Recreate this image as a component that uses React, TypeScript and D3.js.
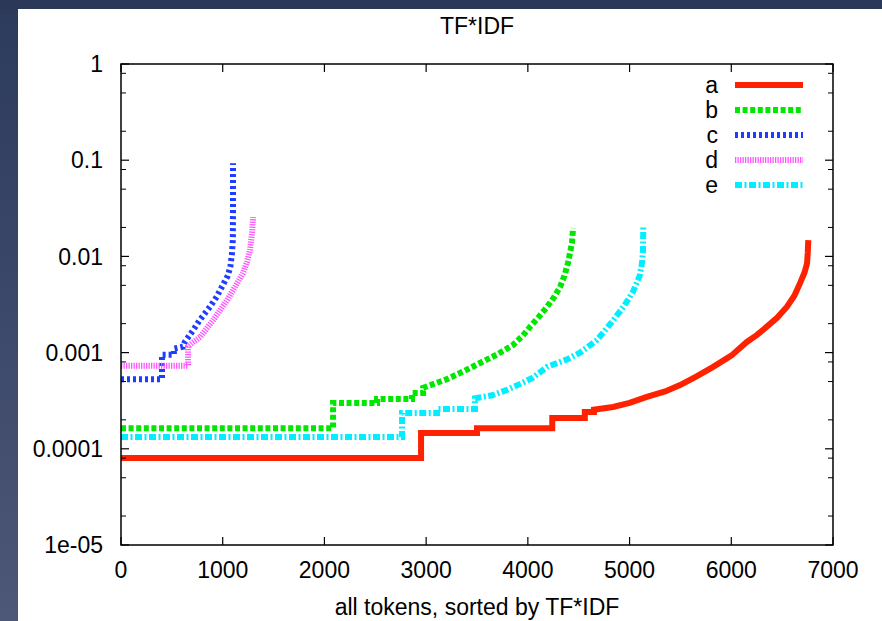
import React from "react";
import * as d3 from "d3";

// ---- data (rank, TF*IDF value) ----
const seriesNames = ["a", "b", "c", "d", "e"];

const aX = [0, 2950, 2950, 3500, 3500, 4240, 4240, 4560, 4560, 4650, 4650, 4837, 5000, 5170, 5350, 5496, 5650, 5822, 6000, 6153, 6250, 6347, 6450, 6546, 6620, 6677, 6720, 6745, 6752, 6757];
const aY = [8e-5, 8e-5, 1.46e-4, 1.46e-4, 1.64e-4, 1.64e-4, 2.09e-4, 2.09e-4, 2.41e-4, 2.41e-4, 2.55e-4, 2.72e-4, 3.0e-4, 3.46e-4, 3.95e-4, 4.6e-4, 5.6e-4, 7.1e-4, 9.3e-4, 1.29e-3, 1.52e-3, 1.85e-3, 2.3e-3, 2.98e-3, 3.9e-3, 5.3e-3, 6.8e-3, 8.5e-3, 0.011, 0.0148];

const bX = [0, 2085, 2085, 2517, 2517, 2861, 2861, 2970, 2970, 3205, 3370, 3530, 3700, 3854, 3950, 4021, 4100, 4188, 4260, 4316, 4360, 4395, 4434, 4444];
const bY = [1.64e-4, 1.64e-4, 3.0e-4, 3.0e-4, 3.3e-4, 3.3e-4, 3.8e-4, 3.8e-4, 4.3e-4, 5.3e-4, 6.4e-4, 7.8e-4, 9.6e-4, 1.2e-3, 1.5e-3, 1.85e-3, 2.3e-3, 2.98e-3, 3.8e-3, 4.8e-3, 6.3e-3, 8.6e-3, 0.0138, 0.0197];

const cX = [0, 403, 403, 520, 520, 609, 629, 708, 777, 875, 940, 1000, 1050, 1075, 1090, 1100, 1101, 1101];
const cY = [5.3e-4, 5.3e-4, 9.5e-4, 9.5e-4, 1.1e-3, 1.15e-3, 1.3e-3, 1.7e-3, 2.2e-3, 3.0e-3, 3.8e-3, 5.0e-3, 6.3e-3, 7.8e-3, 0.0105, 0.015, 0.03, 0.093];

const dX = [0, 659, 659, 700, 777, 910, 1042, 1130, 1200, 1240, 1268, 1290, 1298];
const dY = [7.3e-4, 7.3e-4, 1.15e-3, 1.26e-3, 1.45e-3, 2.2e-3, 3.5e-3, 5.0e-3, 6.7e-3, 8.8e-3, 0.0117, 0.018, 0.0256];

const eX = [0, 2763, 2763, 3107, 3107, 3480, 3480, 3650, 3795, 3920, 4050, 4188, 4385, 4513, 4680, 4837, 4950, 5034, 5100, 5122, 5132, 5135];
const eY = [1.33e-4, 1.33e-4, 2.35e-4, 2.35e-4, 2.6e-4, 2.6e-4, 3.35e-4, 3.6e-4, 4.1e-4, 4.7e-4, 5.5e-4, 7.1e-4, 8.5e-4, 1.0e-3, 1.35e-3, 2.15e-3, 3.1e-3, 4.3e-3, 6.3e-3, 8.5e-3, 0.0115, 0.021];

const xTicks = [0, 1000, 2000, 3000, 4000, 5000, 6000, 7000];
const yTicks = [1, 0.1, 0.01, 0.001, 0.0001, 1e-5];
const yTickLabels = ["1", "0.1", "0.01", "0.001", "0.0001", "1e-05"];
const yMinorFactors = [2, 5, 8];

const titleText = "TF*IDF";
const xLabelText = "all tokens, sorted by TF*IDF";

const colors = ["#ff2200", "#00e800", "#1f3dff", "#ff55ff", "#00eeff"];
const dashes = ["none", "5 2.6", "3 3", "1.3 1.2", "7 2.5 2 2.5"];
const widths = [6, 6, 6, 6, 6];

const W = 882;
const H = 621;
const FONT = "'Liberation Sans', Arial, Helvetica, sans-serif";

export default function App() {
  const x = d3.scaleLinear().domain([0, 7000]).range([121, 833]);
  const y = d3.scaleLog().domain([1e-5, 1]).range([545, 64]);
  const [x0, x1] = x.range();
  const [y0, y1] = y.range();

  const all = [
    [aX, aY],
    [bX, bY],
    [cX, cY],
    [dX, dY],
    [eX, eY],
  ];
  const line = d3
    .line<[number, number]>()
    .x((p) => x(p[0]))
    .y((p) => y(p[1]));

  const minor: number[] = [];
  for (let k = -5; k < 0; k++) {
    yMinorFactors.forEach((f) => minor.push(f * Math.pow(10, k)));
  }

  const legX0 = 735;
  const legX1 = 803;
  const legY0 = 85;
  const legStep = 25;

  return (
    <svg width={W} height={H} style={{ position: "absolute", left: 0, top: 0 }}>
      <defs>
        <linearGradient id="bg" x1="0" y1="0" x2="0" y2="1">
          <stop offset="0" stopColor="#2c3a5b" />
          <stop offset="1" stopColor="#4d5778" />
        </linearGradient>
      </defs>
      <rect x={0} y={0} width={W} height={H} fill="url(#bg)" />
      <rect x={0} y={0} width={W} height={9} fill="#2b3858" />
      <rect x={18} y={9} width={W - 18} height={H - 9} fill="#ffffff" />

      {/* curves */}
      {all.map(([xs, ys], i) => {
        const pts = xs.map((v, j) => [v, ys[j]] as [number, number]);
        return (
          <path
            key={i}
            d={line(pts) || ""}
            fill="none"
            stroke={colors[i]}
            strokeWidth={widths[i]}
            strokeDasharray={dashes[i]}
            strokeLinejoin="miter"
          />
        );
      })}

      {/* frame */}
      <rect x={x0} y={y1} width={x1 - x0} height={y0 - y1} fill="none" stroke="#000" strokeWidth={1.5} />

      {/* x ticks */}
      {xTicks.map((t) => (
        <g key={"xt" + t}>
          <line x1={x(t)} x2={x(t)} y1={y0} y2={y0 - 8} stroke="#000" strokeWidth={1.2} />
          <line x1={x(t)} x2={x(t)} y1={y1} y2={y1 + 8} stroke="#000" strokeWidth={1.2} />
          <text x={x(t)} y={578} textAnchor="middle" fontFamily={FONT} fontSize={23} fill="#000">
            {t}
          </text>
        </g>
      ))}

      {/* y ticks */}
      {yTicks.map((t, i) => (
        <g key={"yt" + t}>
          <line x1={x0} x2={x0 + 8} y1={y(t)} y2={y(t)} stroke="#000" strokeWidth={1.2} />
          <line x1={x1} x2={x1 - 8} y1={y(t)} y2={y(t)} stroke="#000" strokeWidth={1.2} />
          <text x={103} y={y(t)} dy="0.36em" textAnchor="end" fontFamily={FONT} fontSize={23} fill="#000">
            {yTickLabels[i]}
          </text>
        </g>
      ))}
      {minor.map((t) => (
        <g key={"ym" + t}>
          <line x1={x0} x2={x0 + 5} y1={y(t)} y2={y(t)} stroke="#000" strokeWidth={1} />
          <line x1={x1} x2={x1 - 5} y1={y(t)} y2={y(t)} stroke="#000" strokeWidth={1} />
        </g>
      ))}

      {/* legend */}
      {seriesNames.map((n, i) => {
        const ly = legY0 + i * legStep;
        return (
          <g key={"lg" + n}>
            <text x={718} y={ly} dy="0.33em" textAnchor="end" fontFamily={FONT} fontSize={23} fill="#000">
              {n}
            </text>
            <line
              x1={legX0}
              x2={legX1}
              y1={ly}
              y2={ly}
              stroke={colors[i]}
              strokeWidth={widths[i]}
              strokeDasharray={dashes[i]}
            />
          </g>
        );
      })}

      {/* title and axis label */}
      <text x={(x0 + x1) / 2} y={34} textAnchor="middle" fontFamily={FONT} fontSize={23} fill="#000">
        {titleText}
      </text>
      <text x={(x0 + x1) / 2} y={615} textAnchor="middle" fontFamily={FONT} fontSize={23} fill="#000">
        {xLabelText}
      </text>
    </svg>
  );
}
